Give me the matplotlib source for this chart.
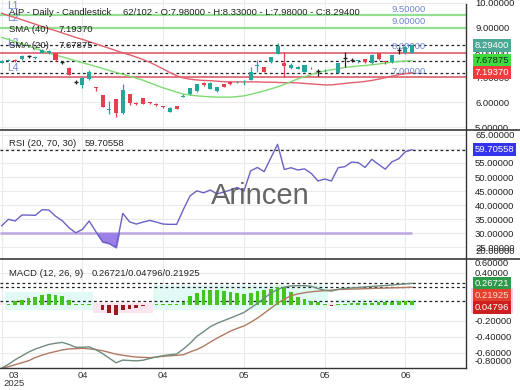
import numpy as np
import matplotlib
matplotlib.use("Agg")
import matplotlib.pyplot as plt
import matplotlib.transforms as mtransforms
from matplotlib.lines import Line2D
from matplotlib.patches import Rectangle
from matplotlib.ticker import FormatStrFormatter

plt.rcParams['font.family'] = ['Liberation Sans', 'DejaVu Sans']

# ---- data ----
opens = [7.60, 7.68, 7.72, 7.74, 7.86, 7.78, 7.99, 8.00, 7.97, 7.61,
         7.39, 6.80, 6.68, 6.92, 6.63, 6.29, 5.68, 6.12, 5.58, 6.32,
         5.97, 6.16, 6.00, 5.93, 5.86, 5.62, 5.84, 6.21, 6.33, 6.45,
         6.78, 6.55, 6.45, 6.72, 6.82, 6.80, 6.70, 6.90, 7.48, 7.40,
         7.62, 7.95, 7.57, 7.38, 7.34, 7.22, 7.44, 7.26, 7.20, 7.18,
         7.18, 7.78, 7.70, 7.68, 7.74, 7.58, 7.98, 7.66, 7.62, 8.10,
         7.98, 7.98]
highs = [7.70, 7.76, 7.74, 7.92, 7.92, 7.85, 8.14, 8.10, 8.00, 7.62,
         7.42, 6.88, 7.00, 7.30, 6.63, 6.30, 6.07, 6.15, 6.72, 6.35,
         6.02, 6.17, 6.03, 5.97, 5.87, 5.80, 5.86, 6.34, 6.58, 6.75,
         6.80, 6.80, 6.62, 6.74, 6.85, 6.86, 6.90, 7.42, 7.70, 7.42,
         7.84, 8.39, 8.02, 7.60, 7.46, 7.52, 7.44, 7.34, 7.34, 7.19,
         7.60, 8.02, 7.78, 7.72, 7.76, 7.93, 8.00, 7.66, 7.92, 8.24,
         8.28, 8.33]
lows = [7.58, 7.66, 7.64, 7.72, 7.80, 7.76, 7.97, 7.96, 7.68, 7.55,
        7.08, 6.72, 6.58, 6.88, 6.45, 5.82, 5.55, 5.42, 5.55, 5.89,
        5.88, 5.92, 5.94, 5.85, 5.76, 5.60, 5.72, 6.21, 6.30, 6.43,
        6.65, 6.53, 6.43, 6.60, 6.70, 6.78, 6.70, 6.88, 7.22, 7.20,
        7.60, 7.93, 7.02, 7.34, 7.32, 7.20, 7.32, 7.07, 7.20, 7.12,
        7.16, 7.42, 7.64, 7.60, 7.60, 7.56, 7.72, 7.55, 7.60, 7.95,
        7.96, 7.98]
closes = [7.66, 7.72, 7.68, 7.88, 7.86, 7.83, 8.10, 8.06, 7.70, 7.61,
          7.10, 6.80, 6.96, 7.20, 6.58, 5.83, 5.74, 5.56, 6.50, 5.98,
          5.95, 5.93, 5.98, 5.90, 5.80, 5.78, 5.74, 6.24, 6.56, 6.72,
          6.68, 6.78, 6.60, 6.62, 6.72, 6.83, 6.71, 7.22, 7.52, 7.22,
          7.82, 8.27, 7.46, 7.52, 7.42, 7.50, 7.40, 7.26, 7.23, 7.17,
          7.58, 7.78, 7.70, 7.71, 7.62, 7.91, 7.74, 7.62, 7.90, 8.10,
          8.23, 8.294]

sma20 = [8.61, 8.53, 8.44, 8.35, 8.26, 8.16, 8.08, 7.99, 7.90, 7.83,
         7.75, 7.67, 7.59, 7.52, 7.44, 7.36, 7.28, 7.20, 7.13, 7.05,
         6.97, 6.89, 6.78, 6.68, 6.58, 6.50, 6.41, 6.33, 6.29, 6.26,
         6.24, 6.22, 6.21, 6.21, 6.21, 6.23, 6.26, 6.32, 6.39, 6.46,
         6.54, 6.62, 6.72, 6.83, 6.94, 7.03, 7.12, 7.20, 7.26, 7.31,
         7.35, 7.40, 7.43, 7.46, 7.48, 7.51, 7.54, 7.58, 7.61, 7.64,
         7.66, 7.67875]
sma40 = [9.58, 9.49, 9.41, 9.32, 9.23, 9.14, 9.05, 8.96, 8.88, 8.79,
         8.70, 8.61, 8.53, 8.44, 8.35, 8.26, 8.17, 8.08, 7.99, 7.91,
         7.82, 7.72, 7.61, 7.48, 7.34, 7.20, 7.07, 6.98, 6.93, 6.90,
         6.88, 6.87, 6.85, 6.83, 6.82, 6.82, 6.82, 6.82, 6.82, 6.81,
         6.81, 6.80, 6.79, 6.79, 6.78, 6.76, 6.74, 6.72, 6.70, 6.70,
         6.73, 6.76, 6.79, 6.81, 6.84, 6.88, 6.93, 6.99, 7.05, 7.11,
         7.15, 7.19370]

rsi = [32.7, 35.0, 34.4, 36.5, 36.5, 36.4, 38.4, 38.3, 36.1, 34.5,
       32.0, 30.2, 31.4, 34.4, 30.6, 27.0, 26.4, 25.0, 37.1, 34.1,
       33.3, 34.0, 34.6, 34.0, 33.3, 33.2, 33.2, 38.5, 43.3, 45.1,
       44.4, 45.4, 44.0, 44.7, 45.4, 46.3, 45.0, 52.2, 53.4, 51.9,
       56.8, 61.6, 52.7, 53.3, 52.5, 52.9, 51.3, 48.6, 49.3, 48.6,
       53.3, 53.7, 55.3, 55.1, 53.4, 56.3, 54.5, 52.8, 55.4, 56.5,
       59.0, 59.70558]

macd = [-0.793, -0.745, -0.688, -0.640, -0.592, -0.554, -0.525, -0.497, -0.482, -0.471,
        -0.497, -0.532, -0.532, -0.526, -0.563, -0.611, -0.669, -0.726, -0.692, -0.697,
        -0.702, -0.694, -0.672, -0.653, -0.637, -0.625, -0.616, -0.554, -0.482, -0.396,
        -0.337, -0.275, -0.233, -0.199, -0.167, -0.132, -0.097, -0.041, 0.017, 0.081,
        0.144, 0.192, 0.219, 0.235, 0.238, 0.238, 0.230, 0.202, 0.180, 0.170,
        0.192, 0.203, 0.210, 0.216, 0.222, 0.228, 0.234, 0.240, 0.247, 0.253,
        0.260, 0.26721]
signal = [-0.795, -0.775, -0.750, -0.725, -0.700, -0.660, -0.630, -0.605, -0.585, -0.565,
          -0.553, -0.549, -0.545, -0.552, -0.561, -0.575, -0.596, -0.618, -0.632, -0.644,
          -0.655, -0.658, -0.662, -0.654, -0.645, -0.638, -0.633, -0.625, -0.590, -0.560,
          -0.520, -0.467, -0.418, -0.374, -0.330, -0.296, -0.266, -0.220, -0.168, -0.107,
          -0.044, 0.019, 0.070, 0.112, 0.134, 0.150, 0.161, 0.169, 0.176, 0.182,
          0.189, 0.192, 0.195, 0.197, 0.200, 0.203, 0.206, 0.208, 0.211, 0.213,
          0.215, 0.21925]
hist = [-0.010, 0.008, 0.042, 0.062, 0.088, 0.100, 0.117, 0.129, 0.117, 0.104,
        0.054, 0.010, 0.008, 0.008, -0.010, -0.062, -0.100, -0.125, -0.071, -0.058,
        -0.042, -0.021, -0.008, 0.008, 0.008, 0.008, 0.010, 0.033, 0.104, 0.150,
        0.179, 0.187, 0.179, 0.166, 0.159, 0.150, 0.129, 0.146, 0.171, 0.179,
        0.200, 0.221, 0.221, 0.159, 0.096, 0.075, 0.046, 0.033, 0.008, -0.012,
        0.008, 0.011, 0.015, 0.019, 0.022, 0.025, 0.028, 0.032, 0.036, 0.040,
        0.045, 0.04796]

green_levels = [9.5, 9.0]
red_levels = [8.0, 7.0]
tick_pos = [0, 12, 24, 36, 48, 60]
tick_labels = ["03", "04", "04", "05", "05", "06"]
year_label = "2025"
symbol = "AIP"
total_bars = 102

# ---- figure ----
W, H = 520, 390
fig = plt.figure(figsize=(W / 100, H / 100), dpi=100)


def rect(top, bottom):
    return [0, 1 - bottom / H, 466 / W, (bottom - top) / H]


ax = fig.add_axes(rect(0, 130))
ax_rsi = fig.add_axes(rect(130, 259), sharex=ax)
ax_macd = fig.add_axes(rect(259, 368), sharex=ax)

n = len(closes)
x = np.arange(n)
FS = 6.8
DASH = (0, (2.2, 2.2))


def style(a, yticks):
    for s in a.spines.values():
        s.set_visible(False)
    a.yaxis.tick_right()
    a.set_yticks(yticks)
    a.yaxis.set_major_formatter(FormatStrFormatter('%.5f'))
    a.tick_params(axis='y', length=0, pad=6.5, labelsize=FS, labelcolor='#222222')
    a.tick_params(axis='x', length=0, labelbottom=False)
    a.grid(True, color='#ebebeb', lw=0.8)
    a.set_axisbelow(True)


def tag(a, y, text, fc, tc='white'):
    tr = mtransforms.blended_transform_factory(a.transAxes, a.transData)
    a.text(1 + 8.5 / 466, y, text, transform=tr, ha='left', va='center', fontsize=FS,
           color=tc, clip_on=False, zorder=12,
           bbox=dict(boxstyle='square,pad=0.2', fc=fc, ec='none'))


# ---- price panel ----
style(ax, [5, 6, 7, 8, 9, 10])
ax.set_xlim(-0.25, 69.0)
ax.set_ylim(4.887, 10.114)

for k, lv in enumerate(green_levels + red_levels):
    col = '#93e093' if lv in green_levels else '#e0606e'
    ax.axhline(lv, color=col, lw=1.6 if lv in green_levels else 1.2, zorder=1)
    ax.annotate(f'{lv:.5f}', xy=(60.5, lv), xytext=(0, 4.3), textcoords='offset points',
                ha='center', va='center', fontsize=FS, color='#6f84d4', zorder=3)
    ax.annotate(f'L{k + 1}', xy=(7 / 466, lv), xycoords=('axes fraction', 'data'),
                xytext=(0, 7), textcoords='offset points', ha='left', va='center',
                fontsize=FS + 0.6, color='#6f84d4', zorder=3)

for v in [closes[-1], sma20[-1], sma40[-1]]:
    ax.axhline(v, color='#222222', lw=0.9, ls=DASH, zorder=2)

ax.plot(x, sma40, color='#e0606e', lw=1.0, zorder=3)
ax.plot(x, sma20, color='#7edc72', lw=1.0, zorder=3)

for i in range(n):
    o, h, l, c = opens[i], highs[i], lows[i], closes[i]
    if c > o:
        col = '#26a69a'
    elif c < o:
        col = '#e5404f'
    else:
        col = '#222222'
    ax.vlines(i, l, h, color=col, lw=0.9, zorder=4)
    if c == o:
        ax.hlines(c, i - 0.3, i + 0.3, color=col, lw=1.0, zorder=4)
    else:
        ax.bar(i, abs(c - o), bottom=min(o, c), width=0.6, color=col, zorder=5)

tag(ax, closes[-1], f'{closes[-1]:.5f}', '#4aa894')
tag(ax, sma20[-1], f'{sma20[-1]:.5f}', '#3fdc3f', '#123312')
tag(ax, sma40[-1], f'{sma40[-1]:.5f}', '#f03c3c')

# ---- RSI panel ----
style(ax_rsi, [25, 30, 35, 40, 45, 50, 55, 60, 65])
ax_rsi.set_ylim(20.9, 66.7)
rsi_a = np.array(rsi)
ax_rsi.hlines(30, -0.25, n - 1, color='#bba6e2', lw=1.8, zorder=2)
ax_rsi.fill_between(x, rsi_a, 30, where=rsi_a < 30, interpolate=True,
                    color='#9a80e8', zorder=3)
ax_rsi.plot(x, rsi_a, color='#6a62c6', lw=1.0, zorder=4)
ax_rsi.axhline(rsi[-1], color='#222222', lw=0.9, ls=DASH, zorder=2)
tag(ax_rsi, rsi[-1], f'{rsi[-1]:.5f}', '#3434ee')
tr_r = mtransforms.blended_transform_factory(ax_rsi.transAxes, ax_rsi.transAxes)
ax_rsi.text(1 + 9 / 466, (259 - 252) / 129, '20.00000', transform=tr_r, ha='left',
            va='center', fontsize=FS, color='#222222', clip_on=False)

# ---- MACD panel ----
style(ax_macd, [-0.6, -0.4, -0.2, 0.4])
ax_macd.set_ylim(-0.791, 0.571)
h_a = np.array(hist)

# shaded bands behind each run of same-signed bars
sign = np.sign(h_a)
start = 0
for i in range(1, n + 1):
    if i == n or sign[i] != sign[start]:
        seg = h_a[start:i]
        if sign[start] > 0:
            lo, hi, fc = -0.065, seg.max() + 0.025, '#e2faf6'
        else:
            lo, hi, fc = seg.min() * 0.85, 0.025, '#fde5f0'
        ax_macd.fill_between([start - 0.5, i - 0.5], lo, hi, color=fc, lw=0, zorder=1)
        start = i

ax_macd.bar(x, h_a, width=0.55, color=np.where(h_a >= 0, '#45c41e', '#9b1c1c'), zorder=3)
ax_macd.plot(x, signal, color='#b07a62', lw=1.0, zorder=4)
ax_macd.plot(x, macd, color='#6f8c7c', lw=1.0, zorder=5)
for v in [macd[-1], signal[-1], hist[-1]]:
    ax_macd.axhline(v, color='#222222', lw=0.9, ls=DASH, zorder=2)

tr_m = mtransforms.blended_transform_factory(ax_macd.transAxes, ax_macd.transData)
ax_macd.add_patch(Rectangle((1 + 5 / 466, -0.104), 42 / 466, 0.313, transform=tr_m,
                            fc='#ff8fd2', alpha=0.45, ec='none', clip_on=False, zorder=9))
tag(ax_macd, macd[-1], f'{macd[-1]:.5f}', '#2c9a48')
tag(ax_macd, macd[-1] - 0.155, f'{signal[-1]:.5f}', '#e4402c', '#ffd6d6')
tag(ax_macd, macd[-1] - 0.30, f'{hist[-1]:.5f}', '#cc2020')
tr_mm = mtransforms.blended_transform_factory(ax_macd.transAxes, ax_macd.transAxes)
ax_macd.text(1 + 9 / 466, (368 - 263) / 109, '0.60000', transform=tr_mm, ha='left',
             va='center', fontsize=FS, color='#222222', clip_on=False)
ax_macd.text(1 + 9 / 466, (368 - 361) / 109, '-0.80000', transform=tr_mm, ha='left',
             va='center', fontsize=FS, color='#222222', clip_on=False)

ax_macd.set_xticks(tick_pos)
ax_macd.set_xticklabels([''] + tick_labels[1:])
ax_macd.tick_params(axis='x', labelbottom=True, labelsize=FS, labelcolor='#333333', pad=2)
for a in (ax, ax_rsi):
    a.tick_params(axis='x', labelbottom=False)

# ---- frame lines ----
def px_line(xs, ys, **kw):
    fig.add_artist(Line2D([v / W for v in xs], [1 - v / H for v in ys], **kw))


px_line([0, W], [130, 130], color='#4a4a4a', lw=1.3)
px_line([0, W], [259, 259], color='#4a4a4a', lw=1.3)
px_line([466, 466], [4, 368], color='#333333', lw=1.0)
px_line([0, 466], [368, 368], color='#333333', lw=1.0)

# ---- legend texts ----
def ftext(px, py, s, **kw):
    fig.text(px / W, 1 - py / H, s, va='center', ha='left', fontsize=FS, color='#222222', **kw)


ftext(9, 12.7, f'{symbol} - Daily - Candlestick')
ftext(123, 12.7, f'{n}/{total_bars} - O:{opens[-1]:.5f} - H:{highs[-1]:.5f} - '
                 f'L:{lows[-1]:.5f} - C:{closes[-1]:.5f}')
ftext(9, 29.3, 'SMA (40)')
ftext(58, 29.3, f'{sma40[-1]:.5f}')
ftext(9, 45, 'SMA (20)')
ftext(58, 45, f'{sma20[-1]:.5f}')
ftext(9, 144, 'RSI (20, 70, 30)')
ftext(85, 144, f'{rsi[-1]:.5f}')
ftext(9, 274, 'MACD (12, 26, 9)')
ftext(92, 274, f'{macd[-1]:.5f}/{hist[-1]:.5f}/{signal[-1]:.5f}')

fig.text(14 / W, 1 - 375 / H, tick_labels[0], ha='center', va='center', fontsize=FS, color='#333333')
fig.text(14 / W, 1 - 383.5 / H, year_label, ha='center', va='center', fontsize=FS, color='#333333')

fig.text(0.5, 1 - 204.5 / H, 'Arincen', ha='center', va='baseline', fontsize=21,
         color='#555555', alpha=0.9)

fig.savefig('out.png', dpi=100)
